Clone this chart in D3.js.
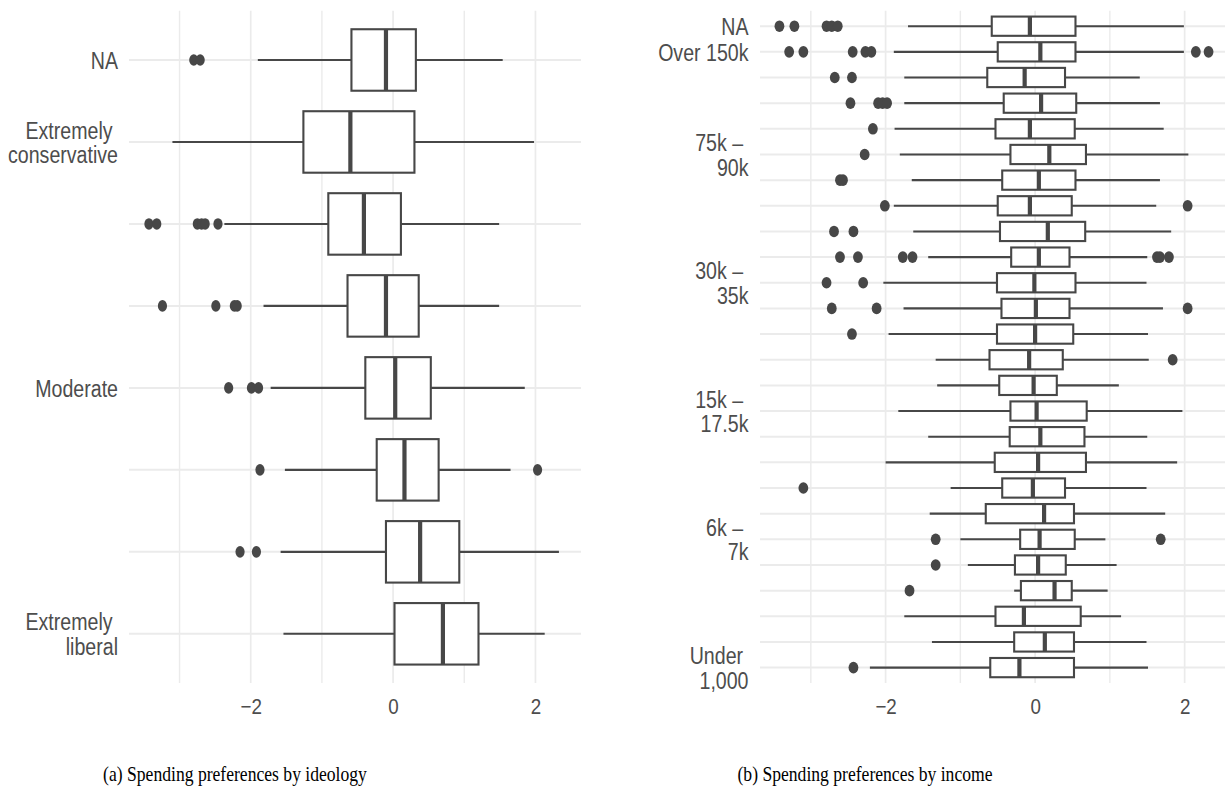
<!DOCTYPE html>
<html>
<head>
<meta charset="utf-8">
<script src="https://cdn.jsdelivr.net/npm/d3@7"></script>
<style>
  html, body { margin: 0; padding: 0; background: #ffffff; }
  svg { display: block; }
</style>
</head>
<body>
<svg id="chart" width="1225" height="806"></svg>
<script>
// ---------- Ideology panel data (factor order: bottom to top) ----------
const ideologyLevels = ["Extremely liberal", "Liberal", "Slightly liberal", "Moderate",
  "Slightly conservative", "Conservative", "Extremely conservative", "NA"];
const ideologyLow    = [-1.54, -1.58, -1.52, -1.72, -1.82, -2.37, -3.10, -1.90];
const ideologyQ1     = [ 0.02, -0.10, -0.23, -0.39, -0.64, -0.91, -1.26, -0.585];
const ideologyMedian = [ 0.70,  0.38,  0.16,  0.03, -0.10, -0.41, -0.60, -0.10];
const ideologyQ3     = [ 1.20,  0.93,  0.64,  0.53,  0.36,  0.11,  0.30,  0.32];
const ideologyHigh   = [ 2.13,  2.33,  1.65,  1.85,  1.49,  1.49,  1.98,  1.54];
const ideologyOutliers = [
  [],
  [-2.15, -1.92],
  [-1.87, 2.03],
  [-2.31, -1.99, -1.89],
  [-3.24, -2.49, -2.23, -2.19],
  [-3.43, -3.32, -2.75, -2.69, -2.64, -2.46],
  [],
  [-2.80, -2.71]
];
// Tick labels drawn on the ideology axis
const ideologyTickLabels = {
  "NA": ["NA"],
  "Extremely conservative": ["Extremely", "conservative"],
  "Moderate": ["Moderate"],
  "Extremely liberal": ["Extremely", "liberal"]
};

// ---------- Income panel data (factor order: bottom to top) ----------
const incomeLevels = ["Under 1,000", "1k – 3k", "3k – 4k", "4k – 5k", "5k – 6k", "6k – 7k",
  "7k – 8k", "8k – 10k", "10k – 12.5k", "12.5k – 15k", "15k – 17.5k", "17.5k – 20k",
  "20k – 22.5k", "22.5k – 25k", "25k – 30k", "30k – 35k", "35k – 40k", "40k – 50k",
  "50k – 60k", "60k – 75k", "75k – 90k", "90k – 110k", "110k – 130k", "130k – 150k",
  "Over 150k", "NA"];
const incomeLow    = [-2.21, -1.38, -1.75, -0.28, -0.90, -1.00, -1.41, -1.13, -2.00, -1.43,
  -1.83, -1.31, -1.33, -1.96, -1.76, -2.03, -1.43, -1.63, -1.89, -1.65,
  -1.81, -1.88, -1.75, -1.75, -1.89, -1.70];
const incomeQ1     = [-0.60, -0.28, -0.53, -0.19, -0.27, -0.20, -0.66, -0.44, -0.54, -0.34,
  -0.33, -0.48, -0.61, -0.51, -0.45, -0.51, -0.32, -0.47, -0.50, -0.44,
  -0.33, -0.53, -0.42, -0.64, -0.50, -0.58];
const incomeMedian = [-0.21, 0.13, -0.15, 0.26, 0.04, 0.06, 0.12, -0.03, 0.04, 0.07,
  0.02, -0.02, -0.08, 0.00, 0.01, -0.01, 0.05, 0.17, -0.07, 0.05,
  0.19, -0.07, 0.08, -0.14, 0.07, -0.07];
const incomeQ3     = [0.52, 0.52, 0.61, 0.49, 0.41, 0.53, 0.52, 0.40, 0.68, 0.66,
  0.69, 0.29, 0.37, 0.51, 0.46, 0.54, 0.46, 0.67, 0.49, 0.54,
  0.68, 0.53, 0.55, 0.40, 0.54, 0.54];
const incomeHigh   = [1.51, 1.49, 1.15, 0.97, 1.09, 0.94, 1.74, 1.49, 1.90, 1.50,
  1.97, 1.12, 1.52, 1.51, 1.71, 1.49, 1.50, 1.82, 1.62, 1.67,
  2.05, 1.72, 1.67, 1.40, 1.99, 1.99];
const incomeOutliers = [
  [-2.43],
  [],
  [],
  [-1.68],
  [-1.33],
  [-1.33, 1.68],
  [],
  [-3.10],
  [],
  [],
  [],
  [],
  [1.84],
  [-2.45],
  [-2.72, -2.12, 2.04],
  [-2.79, -2.30],
  [-2.61, -2.37, -1.77, -1.64, 1.63, 1.67, 1.79],
  [-2.69, -2.43],
  [-2.01, 2.04],
  [-2.61, -2.57],
  [-2.28],
  [-2.17],
  [-2.47, -2.10, -2.04, -1.98],
  [-2.68, -2.45],
  [-3.29, -3.10, -2.44, -2.27, -2.19, 2.15, 2.32],
  [-3.42, -3.22, -2.79, -2.72, -2.64]
];
// Tick labels drawn on the income axis
const incomeTickLabels = {
  "NA": ["NA"],
  "Over 150k": ["Over 150k"],
  "75k – 90k": ["75k –", "90k"],
  "30k – 35k": ["30k –", "35k"],
  "15k – 17.5k": ["15k –", "17.5k"],
  "6k – 7k": ["6k –", "7k"],
  "Under 1,000": ["Under", "1,000"]
};

const xGrid = [-3, -2, -1, 0, 1, 2];
const xTicks = [-2, 0, 2];

const captions = ["(a) Spending preferences by ideology", "(b) Spending preferences by income"];

// ---------- drawing ----------
const ink = "#474747";
const textInk = "#4d4d4d";
const gridInk = "#ebebeb";
const sansFont = "'Liberation Sans', Arial, sans-serif";
const tall = 1.18;   // vertical stretch applied to text glyphs

const svg = d3.select("#chart");
svg.append("rect").attr("width", 1225).attr("height", 806).attr("fill", "#ffffff");

function drawPanel(cfg) {
  const { levels, low, q1, med, q3, high, outliers, tickLabels,
          xDomain, xRange, yRange, pointRx, labelX } = cfg;
  const g = svg.append("g");

  const x = d3.scaleLinear().domain(xDomain).range(xRange);
  const y = d3.scalePoint().domain(levels).range(yRange).padding(0.6);
  const step = y.step();
  const boxH = step * 0.75;
  const top = Math.min(...yRange), bottom = Math.max(...yRange);

  // grid: vertical lines at the value breaks
  g.append("g").selectAll("line").data(xGrid).join("line")
    .attr("x1", d => x(d)).attr("x2", d => x(d))
    .attr("y1", top).attr("y2", bottom)
    .attr("stroke", gridInk)
    .attr("stroke-width", d => xTicks.includes(d) ? 1.7 : 1.4);

  // grid: horizontal lines at each category
  g.append("g").selectAll("line").data(levels).join("line")
    .attr("x1", xRange[0]).attr("x2", xRange[1])
    .attr("y1", d => y(d)).attr("y2", d => y(d))
    .attr("stroke", gridInk).attr("stroke-width", 2);

  const rows = levels.map((lv, i) => ({
    lv, low: low[i], q1: q1[i], med: med[i], q3: q3[i], high: high[i], out: outliers[i]
  }));

  const box = g.append("g").selectAll("g").data(rows).join("g");

  // whiskers
  box.append("line")
    .attr("x1", d => x(d.low)).attr("x2", d => x(d.q1))
    .attr("y1", d => y(d.lv)).attr("y2", d => y(d.lv))
    .attr("stroke", ink).attr("stroke-width", 2.1);
  box.append("line")
    .attr("x1", d => x(d.q3)).attr("x2", d => x(d.high))
    .attr("y1", d => y(d.lv)).attr("y2", d => y(d.lv))
    .attr("stroke", ink).attr("stroke-width", 2.1);

  // boxes
  box.append("rect")
    .attr("x", d => x(d.q1)).attr("width", d => x(d.q3) - x(d.q1))
    .attr("y", d => y(d.lv) - boxH / 2).attr("height", boxH)
    .attr("fill", "#ffffff").attr("stroke", ink).attr("stroke-width", 2.1);

  // medians
  box.append("line")
    .attr("x1", d => x(d.med)).attr("x2", d => x(d.med))
    .attr("y1", d => y(d.lv) - boxH / 2).attr("y2", d => y(d.lv) + boxH / 2)
    .attr("stroke", ink).attr("stroke-width", 4.2);

  // outliers
  box.selectAll("ellipse").data(d => d.out.map(v => ({ v, lv: d.lv }))).join("ellipse")
    .attr("cx", d => x(d.v)).attr("cy", d => y(d.lv))
    .attr("rx", pointRx).attr("ry", 5.8)
    .attr("fill", ink);

  // value axis
  const xAxis = d3.axisBottom(x).tickValues(xTicks).tickSize(0).tickPadding(0)
    .tickFormat(d => d < 0 ? "\u2212" + Math.abs(d) : String(d));
  const xa = g.append("g").attr("transform", `translate(0,${714})`).call(xAxis);
  xa.select(".domain").remove();
  xa.selectAll("text")
    .attr("dy", 0).attr("y", 0)
    .attr("transform", `scale(1,${tall})`)
    .attr("fill", textInk)
    .style("font-family", sansFont)
    .style("font-size", "18.8px");

  // category axis (only selected levels carry text)
  const shown = levels.filter(l => tickLabels[l]);
  const yAxis = d3.axisLeft(y).tickValues(shown).tickSize(0).tickPadding(0).tickFormat("");
  const ya = g.append("g").attr("transform", `translate(${labelX},0)`).call(yAxis);
  ya.select(".domain").remove();
  const capH = 16.7, lineH = 24.4;
  ya.selectAll(".tick text").each(function (lv) {
    const lines = tickLabels[lv];
    const base = capH / 2 - (lines.length - 1) * lineH / 2;
    const t = d3.select(this)
      .attr("x", 0).attr("dy", null).attr("y", 0)
      .attr("transform", `translate(0,${base}) scale(1,${tall})`)
      .attr("text-anchor", "end")
      .attr("fill", textInk)
      .style("font-family", sansFont)
      .style("font-size", "19.6px");
    lines.forEach((s, k) => {
      t.append("tspan")
        .attr("x", 0)
        .attr("dy", k === 0 ? 0 : lineH / tall)
        .text(k < lines.length - 1 ? s + "\u00a0" : s);
    });
  });
}

drawPanel({
  levels: ideologyLevels, low: ideologyLow, q1: ideologyQ1, med: ideologyMedian,
  q3: ideologyQ3, high: ideologyHigh, outliers: ideologyOutliers,
  tickLabels: ideologyTickLabels,
  xDomain: [-3.71, 2.64], xRange: [129, 581], yRange: [683, 10.8],
  pointRx: 4.6, labelX: 118
});

drawPanel({
  levels: incomeLevels, low: incomeLow, q1: incomeQ1, med: incomeMedian,
  q3: incomeQ3, high: incomeHigh, outliers: incomeOutliers,
  tickLabels: incomeTickLabels,
  xDomain: [-3.68, 2.54], xRange: [760, 1225], yRange: [683, 10.8],
  pointRx: 4.9, labelX: 748.5
});

// sub-figure captions
svg.append("g").selectAll("text").data(captions).join("text")
  .attr("transform", (d, i) => `translate(${i === 0 ? 235 : 865},781) scale(1,1.22)`)
  .attr("text-anchor", "middle")
  .attr("fill", "#000000")
  .style("font-family", "'Liberation Serif', 'DejaVu Serif', serif")
  .style("font-size", "17.6px")
  .text(d => d);
</script>
</body>
</html>
